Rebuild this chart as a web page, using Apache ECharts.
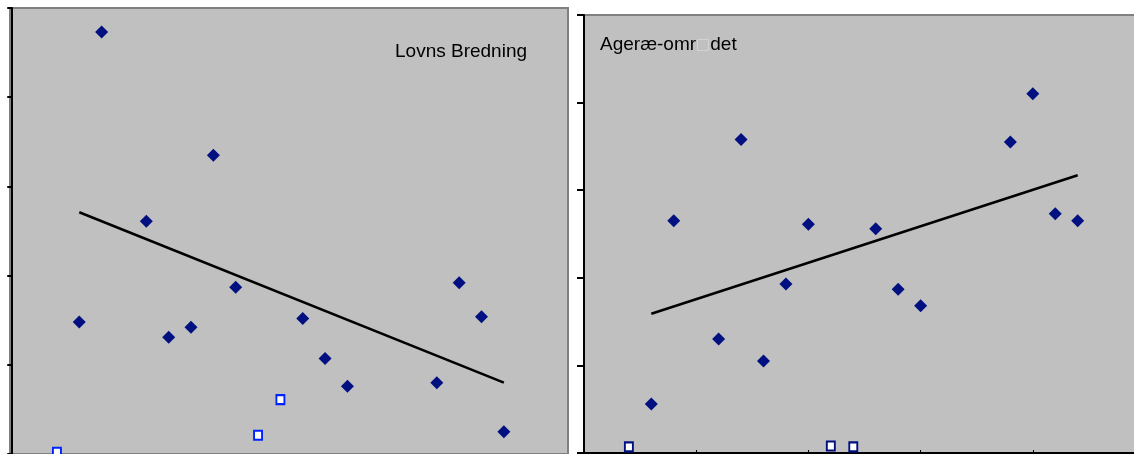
<!DOCTYPE html>
<html>
<head>
<meta charset="utf-8">
<script src="https://cdn.jsdelivr.net/npm/echarts@6/dist/echarts.min.js"></script>
<style>
  html, body { margin: 0; padding: 0; background: #fff; }
  #chart { width: 1134px; height: 454px; }
</style>
</head>
<body>
<div id="chart"></div>
<script>
// Lovns Bredning (left panel)
const lovnsX = [4, 3, 6, 7, 8, 9, 10, 13, 14, 15, 19, 20, 21, 22];
const lovnsY = [4.73, 1.48, 2.61, 1.31, 1.42, 3.35, 1.87, 1.52, 1.07, 0.76, 0.80, 1.92, 1.54, 0.25];
const lovnsOpenX = [2, 11, 12];
const lovnsOpenY = [0.02, 0.21, 0.61];
const lovnsTrendX = [3, 22];
const lovnsTrendY = [2.71, 0.80];

// Agerae-omraadet (right panel)
const agerX = [3, 4, 6, 7, 8, 9, 10, 13, 14, 15, 19, 20, 21, 22];
const agerY = [0.56, 2.65, 1.30, 3.58, 1.05, 1.93, 2.61, 2.56, 1.87, 1.68, 3.55, 4.10, 2.73, 2.65];
const agerOpenX = [2, 11, 12];
const agerOpenY = [0.07, 0.08, 0.07];
const agerTrendX = [3, 22];
const agerTrendY = [1.59, 3.17];

const zip = (xs, ys) => xs.map((x, i) => [x, ys[i]]);

const chart = echarts.init(document.getElementById('chart'));

const plotBg = '#C0C0C0';
const navy = '#001080';
const titleFont = '19px "Liberation Sans", Arial, sans-serif';

function diamondSeries(idx, xs, ys) {
  return {
    type: 'scatter', xAxisIndex: idx, yAxisIndex: idx,
    symbol: 'diamond', symbolSize: [13, 13],
    itemStyle: { color: navy, opacity: 1 },
    data: zip(xs, ys), z: 3
  };
}
function openSeries(idx, xs, ys, color) {
  return {
    type: 'scatter', xAxisIndex: idx, yAxisIndex: idx,
    symbol: 'rect', symbolSize: [8, 9],
    itemStyle: { color: '#fff', borderColor: color, borderWidth: 2, opacity: 1 },
    data: zip(xs, ys), z: 3
  };
}
function trendSeries(idx, xs, ys) {
  return {
    type: 'line', xAxisIndex: idx, yAxisIndex: idx,
    symbol: 'none', lineStyle: { color: '#000', width: 2.5 },
    data: zip(xs, ys), z: 2
  };
}

let option = {
  animation: false,
  backgroundColor: '#fff',
  grid: [
    { left: 10, top: 8, width: 558, height: 446, outerBoundsMode: 'none', show: true,
      backgroundColor: plotBg, borderColor: '#808080', borderWidth: 2 },
    { left: 584, top: 15, width: 561, height: 438, outerBoundsMode: 'none', show: true,
      backgroundColor: plotBg, borderColor: '#808080', borderWidth: 2 }
  ],
  xAxis: [
    { gridIndex: 0, type: 'value', min: -0.1, max: 24.87, splitLine: { show: false },
      axisLine: { show: false }, axisTick: { show: false }, axisLabel: { show: false } },
    { gridIndex: 1, type: 'value', min: 0, max: 25, interval: 5, splitLine: { show: false },
      axisLine: { show: true, onZero: false, lineStyle: { color: '#000', width: 2 } },
      axisTick: { show: true, inside: true, length: 3, lineStyle: { color: '#000', width: 1 } },
      axisLabel: { show: false } }
  ],
  yAxis: [
    { gridIndex: 0, type: 'value', min: 0, max: 5, interval: 1, splitLine: { show: false },
      axisLine: { show: true, lineStyle: { color: '#000', width: 2 } },
      axisTick: { show: true, length: 5, lineStyle: { color: '#000', width: 2 } },
      axisLabel: { show: false } },
    { gridIndex: 1, type: 'value', min: 0, max: 5, interval: 1, splitLine: { show: false },
      axisLine: { show: true, lineStyle: { color: '#000', width: 2 } },
      axisTick: { show: true, length: 7, lineStyle: { color: '#000', width: 2 } },
      axisLabel: { show: false } }
  ],
  graphic: [
    { type: 'text', x: 395, y: 52,
      style: { text: 'Lovns Bredning', fill: '#000', font: titleFont, verticalAlign: 'middle' } },
    { type: 'text', x: 600, y: 45,
      style: {
        text: 'Ageræ-omr{b|□}det', fill: '#000', font: titleFont, verticalAlign: 'middle',
        rich: { b: { fill: '#d8d8d8', font: '15px "DejaVu Sans", sans-serif' } }
      } }
  ],
  series: [
    trendSeries(0, lovnsTrendX, lovnsTrendY),
    diamondSeries(0, lovnsX, lovnsY),
    openSeries(0, lovnsOpenX, lovnsOpenY, '#0022FF'),
    trendSeries(1, agerTrendX, agerTrendY),
    diamondSeries(1, agerX, agerY),
    openSeries(1, agerOpenX, agerOpenY, navy)
  ]
};

chart.setOption(option);
window.addEventListener('resize', () => chart.resize());
</script>
</body>
</html>
